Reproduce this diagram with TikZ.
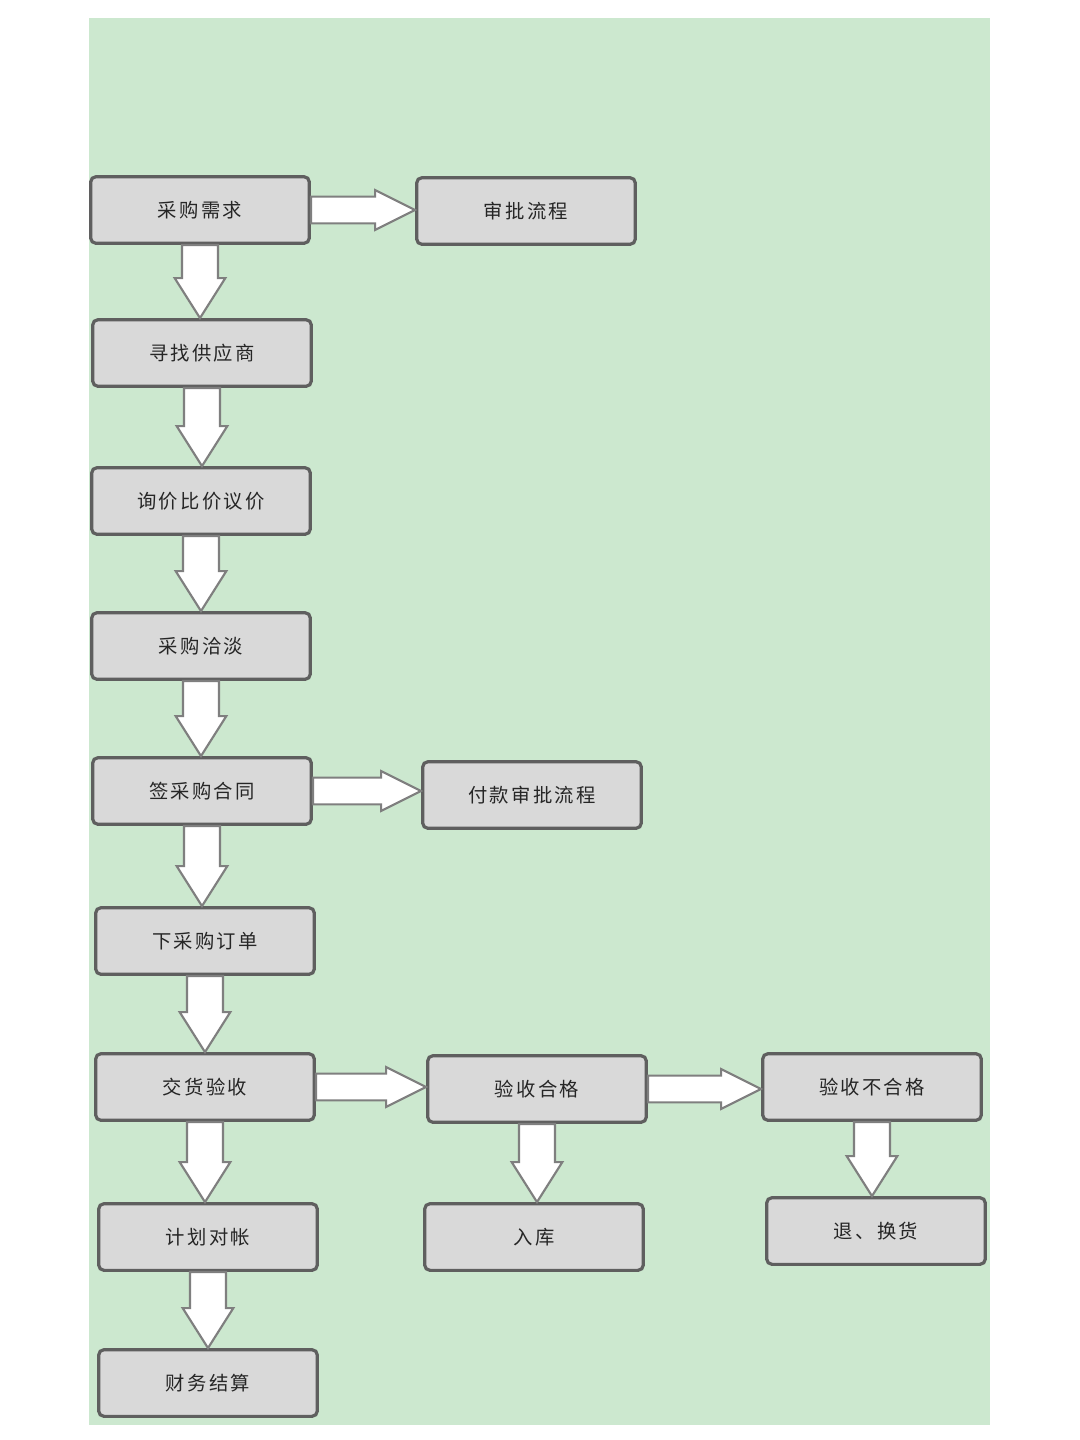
\documentclass[tikz,border=0pt]{standalone}
\usepackage{fontspec}
\newfontfamily\cjk[LetterSpace=12]{Noto Sans CJK SC}
\usetikzlibrary{calc}
\definecolor{bg}{HTML}{CCE8CF}
\definecolor{boxf}{HTML}{D9D9D9}
\definecolor{boxd}{HTML}{5F5F5F}
\tikzset{
 stepbox/.style={draw=boxd,line width=2.4pt,fill=boxf,rounded corners=4pt,minimum width=164pt,minimum height=50pt,font=\cjk\fontsize{14.5}{16}\selectfont,text=black!85},
 blockarr/.style={draw=boxd!80,line width=1.6pt,fill=white,line join=miter}
}
\newcommand\varr[2]{\draw[blockarr] let \p1=(#1.south), \p2=(#2.north) in
 (\x1-13.5pt,\y1) -- (\x1+13.5pt,\y1) -- (\x1+13.5pt,\y2+30pt) -- (\x1+19pt,\y2+30pt) -- (\x1,\y2) -- (\x1-19pt,\y2+30pt) -- (\x1-13.5pt,\y2+30pt) -- cycle;}
\newcommand\harr[2]{\draw[blockarr] let \p1=(#1.east), \p2=(#2.west) in
 (\x1,\y1+10pt) -- (\x2-30pt,\y1+10pt) -- (\x2-30pt,\y1+15pt) -- (\x2,\y1) -- (\x2-30pt,\y1-15pt) -- (\x2-30pt,\y1-10pt) -- (\x1,\y1-10pt) -- cycle;}
\begin{document}
\begin{tikzpicture}[x=0.75pt,y=-0.75pt]
\useasboundingbox (0,0) rectangle (1080,1440);
\fill[white] (0,0) rectangle (1080,1440);
\fill[bg] (89,18) rectangle (990,1425);
\node[stepbox] (a) at (200,210) {采购需求};
\node[stepbox] (b) at (526,211) {审批流程};
\node[stepbox] (c) at (202,353) {寻找供应商};
\node[stepbox] (d) at (201,501) {询价比价议价};
\node[stepbox] (e) at (201,646) {采购洽淡};
\node[stepbox] (f) at (202,791) {签采购合同};
\node[stepbox] (g) at (532,795) {付款审批流程};
\node[stepbox] (h) at (205,941) {下采购订单};
\node[stepbox] (i) at (205,1087) {交货验收};
\node[stepbox] (j) at (537,1089) {验收合格};
\node[stepbox] (k) at (872,1087) {验收不合格};
\node[stepbox] (l) at (208,1237) {计划对帐};
\node[stepbox] (m) at (534,1237) {入库};
\node[stepbox] (n) at (876,1231) {退、换货};
\node[stepbox] (o) at (208,1383) {财务结算};
\harr{a}{b}
\harr{f}{g}
\harr{i}{j}
\harr{j}{k}
\varr{a}{c}
\varr{c}{d}
\varr{d}{e}
\varr{e}{f}
\varr{f}{h}
\varr{h}{i}
\varr{i}{l}
\varr{l}{o}
\varr{j}{m}
\varr{k}{n}
\end{tikzpicture}
\end{document}
